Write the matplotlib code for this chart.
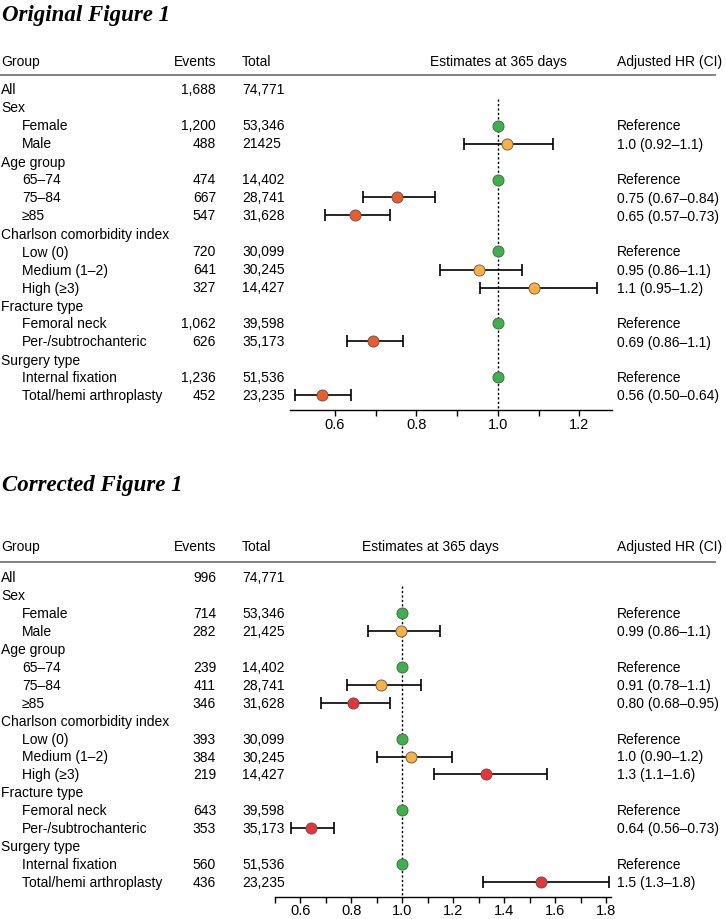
import matplotlib
matplotlib.use("Agg")
import matplotlib.pyplot as plt
from matplotlib.lines import Line2D
from matplotlib.ticker import FixedLocator, FormatStrFormatter

W, H = 726, 919
SANS = "Liberation Sans"

# rows shared by both panels
labels = ["All", "Sex", "Female", "Male", "Age group", "65–74", "75–84", "≥85",
          "Charlson comorbidity index", "Low (0)", "Medium (1–2)", "High (≥3)",
          "Fracture type", "Femoral neck", "Per-/subtrochanteric",
          "Surgery type", "Internal fixation", "Total/hemi arthroplasty"]
sections = ["All", "Sex", "Age group", "Charlson comorbidity index",
            "Fracture type", "Surgery type"]

# original figure
orig_events = ["1,688", "", "1,200", "488", "", "474", "667", "547", "", "720", "641", "327",
               "", "1,062", "626", "", "1,236", "452"]
orig_total = ["74,771", "", "53,346", "21425", "", "14,402", "28,741", "31,628", "", "30,099",
              "30,245", "14,427", "", "39,598", "35,173", "", "51,536", "23,235"]
orig_est = [None, None, 1.0, 1.022, None, 1.0, 0.753, 0.650, None, 1.0, 0.953, 1.089,
            None, 1.0, 0.694, None, 1.0, 0.568]
orig_lo = [None, None, None, 0.916, None, None, 0.668, 0.575, None, None, 0.857, 0.955,
           None, None, 0.631, None, None, 0.503]
orig_hi = [None, None, None, 1.136, None, None, 0.846, 0.735, None, None, 1.059, 1.243,
           None, None, 0.768, None, None, 0.639]
orig_kind = [None, None, "ref", "ns", None, "ref", "sig", "sig", None, "ref", "ns", "ns",
             None, "ref", "sig", None, "ref", "sig"]
orig_hr = ["", "", "Reference", "1.0 (0.92–1.1)", "", "Reference", "0.75 (0.67–0.84)",
           "0.65 (0.57–0.73)", "", "Reference", "0.95 (0.86–1.1)", "1.1 (0.95–1.2)", "",
           "Reference", "0.69 (0.86–1.1)", "", "Reference", "0.56 (0.50–0.64)"]

# corrected figure
corr_events = ["996", "", "714", "282", "", "239", "411", "346", "", "393", "384", "219",
               "", "643", "353", "", "560", "436"]
corr_total = ["74,771", "", "53,346", "21,425", "", "14,402", "28,741", "31,628", "", "30,099",
              "30,245", "14,427", "", "39,598", "35,173", "", "51,536", "23,235"]
corr_est = [None, None, 1.0, 0.996, None, 1.0, 0.916, 0.805, None, 1.0, 1.035, 1.328,
            None, 1.0, 0.643, None, 1.0, 1.542]
corr_lo = [None, None, None, 0.863, None, None, 0.782, 0.682, None, None, 0.899, 1.124,
           None, None, 0.563, None, None, 1.314]
corr_hi = [None, None, None, 1.146, None, None, 1.073, 0.950, None, None, 1.193, 1.566,
           None, None, 0.733, None, None, 1.810]
corr_kind = [None, None, "ref", "ns", None, "ref", "ns", "sig", None, "ref", "ns", "sig",
             None, "ref", "sig", None, "ref", "sig"]
corr_hr = ["", "", "Reference", "0.99 (0.86–1.1)", "", "Reference", "0.91 (0.78–1.1)",
           "0.80 (0.68–0.95)", "", "Reference", "1.0 (0.90–1.2)", "1.3 (1.1–1.6)", "",
           "Reference", "0.64 (0.56–0.73)", "", "Reference", "1.5 (1.3–1.8)"]


def px(x, y):
    return x / W, 1 - y / H


def txt(fig, x, y, s, ha="left", size=10, **kw):
    # y is the visual centre of capitals, in pixels from the top
    fig.text(*px(x, y + 5), s, ha=ha, va="baseline", fontsize=size, family=SANS, **kw)


def panel(fig, title, title_y, head_y, line_y, row0, dy, axis_y, ax_l, ax_r, xlim,
          major, minor, est_head_x, events, total, est, lo, hi, kind, hr, red):
    fig.text(*px(2, title_y), title, ha="left", va="center", fontsize=16.5,
             family="Liberation Serif", weight="bold", style="italic")
    txt(fig, 1, head_y, "Group")
    txt(fig, 216, head_y, "Events", ha="right")
    txt(fig, 242, head_y, "Total")
    txt(fig, est_head_x, head_y, "Estimates at 365 days", ha="center")
    txt(fig, 617, head_y, "Adjusted HR (CI)")
    fig.add_artist(Line2D([0, 715 / W], [1 - line_y / H] * 2, color="#777777", lw=1.3))

    for i, lab in enumerate(labels):
        y = row0 + i * dy
        txt(fig, 1 if lab in sections else 22, y, lab)
        txt(fig, 216, y, events[i], ha="right")
        txt(fig, 242, y, total[i])
        txt(fig, 617, y, hr[i])

    top = row0 - dy
    ax = fig.add_axes([ax_l / W, 1 - axis_y / H, (ax_r - ax_l) / W, (axis_y - top) / H])
    ax.patch.set_alpha(0)
    ybot = (axis_y - row0) / dy
    ax.set_ylim(ybot, -1)
    ax.set_xlim(*xlim)
    for s in ["top", "left", "right"]:
        ax.spines[s].set_visible(False)
    ax.spines["bottom"].set_linewidth(1.0)
    ax.set_yticks([])
    ax.xaxis.set_major_locator(FixedLocator(major))
    ax.xaxis.set_minor_locator(FixedLocator(minor))
    ax.xaxis.set_major_formatter(FormatStrFormatter("%.1f"))
    ax.tick_params(axis="x", which="both", length=4, width=1, direction="out",
                   labelsize=10.5, pad=1.5)
    for t in ax.get_xticklabels():
        t.set_family(SANS)

    ax.plot([1, 1], [0.5, ybot], color="black", lw=1.0, ls=(0, (1.6, 1.6)), zorder=1)

    colors = {"ref": "#3bb34a", "ns": "#fbb040", "sig": red}
    for i, k in enumerate(kind):
        if k is None:
            continue
        if lo[i] is not None:
            ax.errorbar(est[i], i, xerr=[[est[i] - lo[i]], [hi[i] - est[i]]], fmt="none",
                        ecolor="black", elinewidth=1.2, capsize=4.5, capthick=1.2, zorder=2)
        ax.plot(est[i], i, "o", ms=8, mfc=colors[k], mec="#555555", mew=0.6, zorder=3)


fig = plt.figure(figsize=(W / 100, H / 100), dpi=100)

panel(fig, "Original Figure 1", 15, 61, 75, 89.5, 18.0, 410, 290, 612, (0.49, 1.28),
      [0.6, 0.8, 1.0, 1.2], [0.7, 0.9, 1.1], 498,
      orig_events, orig_total, orig_est, orig_lo, orig_hi, orig_kind, orig_hr, "#f15a29")

panel(fig, "Corrected Figure 1", 485, 546, 561.5, 577.5, 17.9, 896.5, 275, 611, (0.5, 1.818),
      [0.6, 0.8, 1.0, 1.2, 1.4, 1.6, 1.8], [0.5, 0.7, 0.9, 1.1, 1.3, 1.5, 1.7], 430,
      corr_events, corr_total, corr_est, corr_lo, corr_hi, corr_kind, corr_hr, "#ed3237")

fig.savefig("out.png", dpi=100)
